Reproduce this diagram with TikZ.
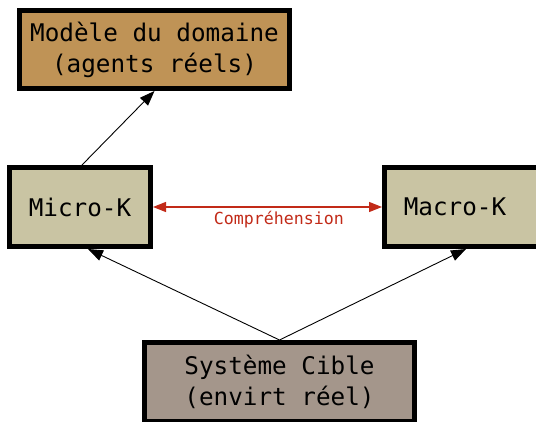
\documentclass[tikz,border=0pt]{standalone}
\usepackage{fontspec}
\newfontfamily\boxfont{DejaVu Sans Mono}
\usetikzlibrary{arrows.meta}
\definecolor{domainfill}{HTML}{BF9356}
\definecolor{kfill}{HTML}{C9C4A3}
\definecolor{cible}{HTML}{A4968B}
\definecolor{linkred}{HTML}{C22A18}
\tikzset{
  box/.style={draw=black, line width=5pt, rectangle, inner sep=0pt,
    align=center, font=\boxfont\fontsize{24.3}{31}\selectfont},
  lbl/.style={inner sep=0pt, font=\boxfont\fontsize{24.3}{31}\selectfont},
  link/.style={line width=0.9pt, -{Triangle[length=15pt,width=11pt]}},
  both/.style={draw=linkred, line width=1.3pt,
    {Triangle[length=13pt,width=10pt]}-{Triangle[length=13pt,width=10pt]}},
}
\begin{document}
\begin{tikzpicture}[x=1pt, y=-1pt]
  \useasboundingbox (0,0) rectangle (536,421);
  \clip (0,0) rectangle (536,421);
  \fill[white] (0,0) rectangle (536,421);

  % boxes
  \node[box, fill=domainfill, minimum width=270pt, minimum height=78pt]
    (domaine) at (154.5,49.5) {Modèle du domaine\\(agents réels)};
  \node[box, fill=kfill, minimum width=141pt, minimum height=79pt]
    (micro) at (80,207) {Micro-K};
  \node[box, fill=kfill, minimum width=173pt, minimum height=79pt]
    (macro) at (471,207) {};
  \node[lbl] (macrolabel) at (455,207) {Macro-K};
  \node[box, fill=cible, minimum width=270pt, minimum height=79pt]
    (cible) at (279.5,382) {Système Cible\\(envirt réel)};

  % connectors
  \draw[link] ([xshift=2pt]micro.north) -- (domaine.south);
  \draw[link] (cible.north) -- ([xshift=8pt]micro.south);
  \draw[link] (cible.north) -- ([xshift=84pt]macro.south west);
  \draw[both] (micro.east) -- (macro.west)
    node[pos=0.55, yshift=-13pt, text=linkred, inner sep=0pt,
         font=\boxfont\fontsize{16.6}{20}\selectfont] (comp) {Compréhension};
\end{tikzpicture}
\end{document}
